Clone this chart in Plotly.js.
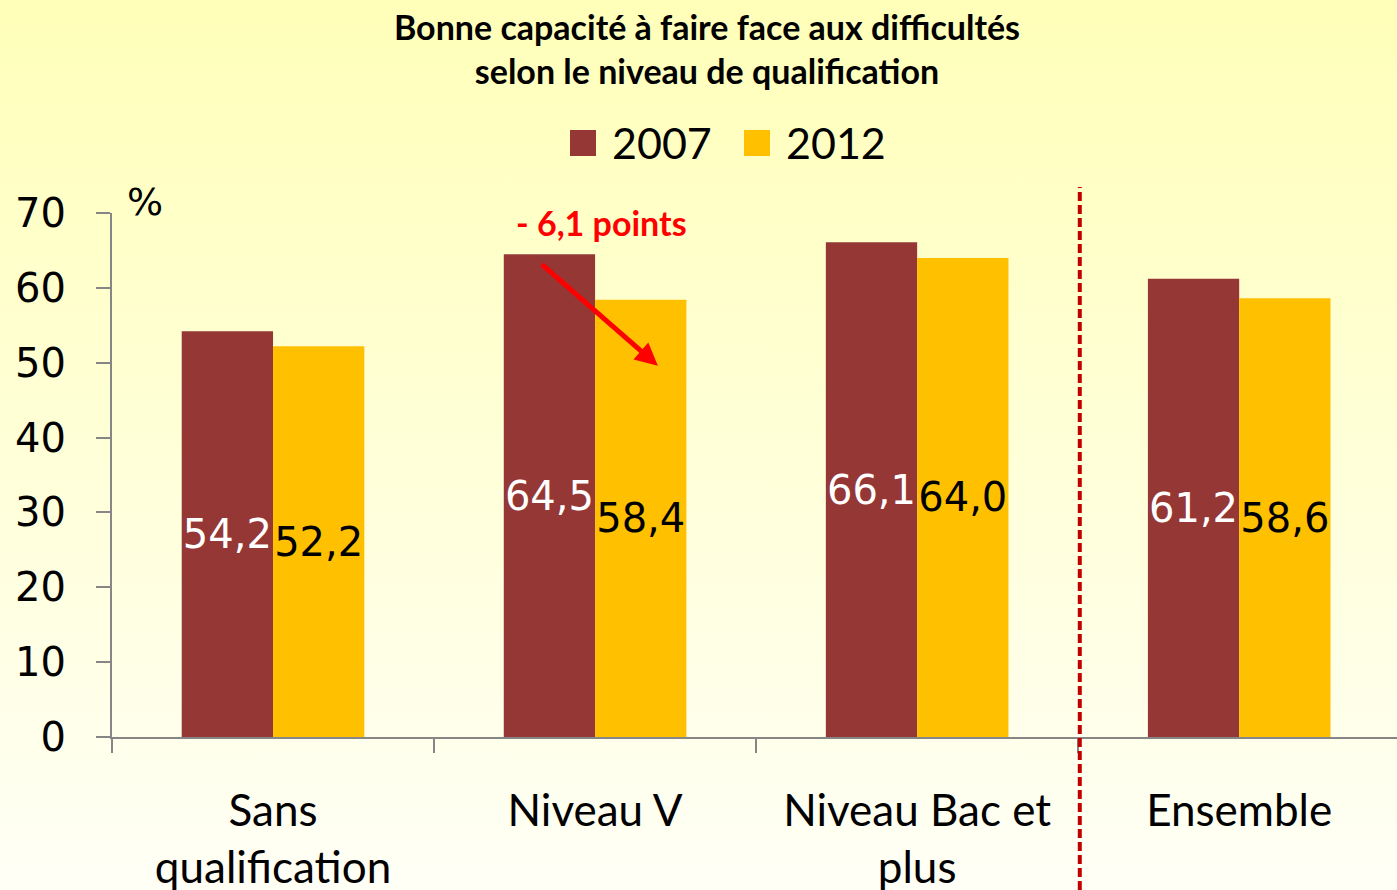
<!DOCTYPE html>
<html>
<head>
<meta charset="utf-8">
<script src="https://cdn.plot.ly/plotly-3.0.1.min.js"></script>
<style>
html,body{margin:0;padding:0;width:1397px;height:890px;overflow:hidden;background:linear-gradient(#FFFFB9,#FFFFF6);}
#chart{width:1397px;height:890px;}
</style>
</head>
<body>
<div id="chart"></div>
<script>
const categories = ["Sans<br>qualification", "Niveau V", "Niveau Bac et<br>plus", "Ensemble"];
const seriesNames = ["2007", "2012"];
const values2007 = [54.2, 64.5, 66.1, 61.2];
const values2012 = [52.2, 58.4, 64.0, 58.6];
const yTicks = [0, 10, 20, 30, 40, 50, 60, 70];
const diffLabel = "- 6,1 points";

const fmt = v => v.toFixed(1).replace('.', ',');
const colors = ["#953735", "#FFC000"];

// pixel helpers for layout placement
const W = 1397, H = 890, L = 112, T = 213, B = 153;
const PW = W - L, PH = H - T - B;
const px = x => (x - L) / PW;
const py = y => (H - B - y) / PH;

const labelFont = "DejaVu Sans, Verdana, sans-serif";
const textFont = "Lato, Open Sans, sans-serif";

const traces = [
  {type: "bar", name: seriesNames[0], x: categories, y: values2007,
   marker: {color: colors[0]}, text: values2007.map(fmt),
   textposition: "inside", insidetextanchor: "middle", textangle: 0,
   constraintext: "none", cliponaxis: false,
   textfont: {family: labelFont, size: 40, color: "#FFFFFF"}, hoverinfo: "none"},
  {type: "bar", name: seriesNames[1], x: categories, y: values2012,
   marker: {color: colors[1]}, text: values2012.map(fmt),
   textposition: "inside", insidetextanchor: "middle", textangle: 0,
   constraintext: "none", cliponaxis: false,
   textfont: {family: labelFont, size: 40, color: "#000000"}, hoverinfo: "none"}
];

const legendItems = [
  {sx: 570, tx: 610}, {sx: 744, tx: 784}
];

const shapes = [
  {type: "line", xref: "x", yref: "paper", x0: 2.505, x1: 2.505, y0: py(890), y1: py(187),
   line: {color: "#C00000", width: 4, dash: "9px,4px"}}
];
const annotations = [
  {xref: "paper", yref: "paper", x: px(125), y: py(202), text: "%", showarrow: false,
   xanchor: "left", yanchor: "middle", font: {family: labelFont, size: 38, color: "#000"}},
  {xref: "x", yref: "paper", x: 1, y: py(222), text: diffLabel, showarrow: false,
   xanchor: "center", yanchor: "middle", xshift: 6,
   font: {family: textFont, size: 34, color: "#FF0000", weight: "bold"}},
  {xref: "x", yref: "y", axref: "x", ayref: "y", x: 1.195, y: 49.6, ax: 0.83, ay: 63.3,
   text: "", showarrow: true, arrowhead: 2, arrowsize: 0.9, arrowwidth: 5, arrowcolor: "#FF0000"}
];
legendItems.forEach((it, i) => {
  shapes.push({type: "rect", xref: "paper", yref: "paper", x0: px(it.sx), x1: px(it.sx + 26),
    y0: py(156), y1: py(130), fillcolor: colors[i], line: {width: 0}});
  annotations.push({xref: "paper", yref: "paper", x: px(it.tx), y: py(143), text: seriesNames[i],
    showarrow: false, xanchor: "left", yanchor: "middle",
    font: {family: textFont, size: 43, color: "#000"}});
});

const layout = {
  width: W, height: H,
  margin: {l: L, r: 0, t: T, b: B, pad: 0},
  paper_bgcolor: "rgba(0,0,0,0)", plot_bgcolor: "rgba(0,0,0,0)",
  showlegend: false,
  barmode: "group", bargap: 0.433, bargroupgap: 0,
  title: {text: "<b>Bonne capacité à faire face aux difficultés<br>selon le niveau de qualification</b>",
    x: px(707), xanchor: "center", xref: "paper", y: 1 - 40 / H, yanchor: "middle", yref: "container",
    automargin: false,
    font: {family: textFont, size: 34, color: "#000"}},
  xaxis: {type: "category", range: [-0.5, 3.49], showgrid: false, zeroline: false,
    showline: true, linecolor: "#868686", linewidth: 2,
    ticks: "outside", tickson: "boundaries", ticklen: 14, tickcolor: "#868686", tickwidth: 2,
    tickfont: {family: textFont, size: 44, color: "#000"}, ticklabelstandoff: 34},
  yaxis: {range: [0, 70], tickvals: yTicks, ticktext: yTicks.map(String), showgrid: false,
    zeroline: false, showline: true, linecolor: "#868686", linewidth: 2,
    ticks: "outside", ticklen: 14, tickcolor: "#868686", tickwidth: 2,
    tickfont: {family: labelFont, size: 40, color: "#000"}, ticklabelstandoff: 22},
  shapes: shapes,
  annotations: annotations
};

Plotly.newPlot("chart", traces, layout, {staticPlot: true, displayModeBar: false});
</script>
</body>
</html>
